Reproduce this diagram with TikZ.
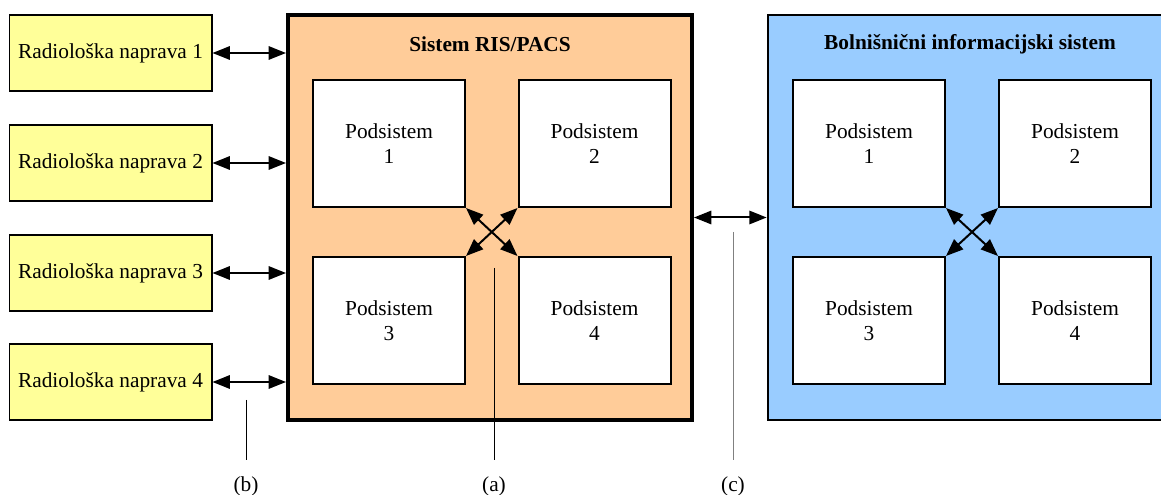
\documentclass[tikz,border=0pt]{standalone}
\usepackage{fontspec}
\setmainfont{Liberation Serif}
\usetikzlibrary{arrows.meta}
\definecolor{geraetgelb}{HTML}{FFFF99}
\definecolor{pacsorange}{HTML}{FFCC99}
\definecolor{hisblau}{HTML}{99CCFF}
\begin{document}
\begin{tikzpicture}[x=0.75pt,y=-0.75pt,
	font=\fontsize{16}{19}\selectfont,
	geraet/.style={draw, line width=1pt, fill=geraetgelb, minimum width=152pt, minimum height=57pt, inner sep=0pt},
	system/.style={draw, minimum width=303pt, minimum height=303.75pt, inner sep=0pt},
	podsys/.style={draw, line width=1.5pt, fill=white, minimum width=114pt, minimum height=95.25pt, align=center, inner sep=0pt},
	pfeil/.style={line width=1.5pt, {Triangle[length=13pt,width=10pt]}-{Triangle[length=13pt,width=10pt]}},
	marke/.style={inner sep=0pt, anchor=north}]
		\useasboundingbox (0,0) rectangle (1161,495);
		
		% Radiologische Geraete
		\node[geraet] (n1) at (110.5,53) {Radiološka naprava 1};
		\node[geraet] (n2) at (110.5,163) {Radiološka naprava 2};
		\node[geraet] (n3) at (110.5,273) {Radiološka naprava 3};
		\node[geraet] (n4) at (110.5,382) {Radiološka naprava 4};
		
		% RIS/PACS
		\node[system, fill=pacsorange, line width=3pt] (ris) at (490,217.5) {};
		\node at (490,44) {\textbf{Sistem RIS/PACS}};
		\node[podsys] (r1) at (389,143.5) {Podsistem\\1};
		\node[podsys] (r2) at (594.5,143.5) {Podsistem\\2};
		\node[podsys] (r3) at (389,320.5) {Podsistem\\3};
		\node[podsys] (r4) at (594.5,320.5) {Podsistem\\4};
		
		% Bolnisnicni sistem (rechts abgeschnitten)
		\node[system, fill=hisblau, line width=2pt] (his) at (970,217.5) {};
		\node at (970,44) {\textbf{Bolnišnični informacijski sistem}};
		\node[podsys] (h1) at (869,143.5) {Podsistem\\1};
		\node[podsys] (h2) at (1075,143.5) {Podsistem\\2};
		\node[podsys] (h3) at (869,320.5) {Podsistem\\3};
		\node[podsys] (h4) at (1075,320.5) {Podsistem\\4};
		
		% Verbindungen
		\draw[pfeil] (n1.east) -- (n1.east -| ris.west);
		\draw[pfeil] (n2.east) -- (n2.east -| ris.west);
		\draw[pfeil] (n3.east) -- (n3.east -| ris.west);
		\draw[pfeil] (n4.east) -- (n4.east -| ris.west);
		\draw[pfeil] (ris.east) -- (his.west);
		
		\draw[pfeil] (r1.south east) -- (r4.north west);
		\draw[pfeil] (r2.south west) -- (r3.north east);
		\draw[pfeil] (h1.south east) -- (h4.north west);
		\draw[pfeil] (h2.south west) -- (h3.north east);
		
		% Beschriftung unten
		\node[marke] (lb) at (246,476) {(b)};
		\node[marke] (la) at (494,476) {(a)};
		\node[marke] (lc) at (733,476) {(c)};
		\coordinate (tb) at (246,400);
		\coordinate (ta) at (494,268);
		\coordinate (tc) at (733,232);
		\draw[line width=0.7pt, shorten >=12pt] (tb) -- (lb.north);
		\draw[line width=0.7pt, shorten >=12pt] (ta) -- (la.north);
		\draw[line width=0.7pt, gray, shorten >=12pt] (tc) -- (lc.north);
		
	\end{tikzpicture}
\end{document}
